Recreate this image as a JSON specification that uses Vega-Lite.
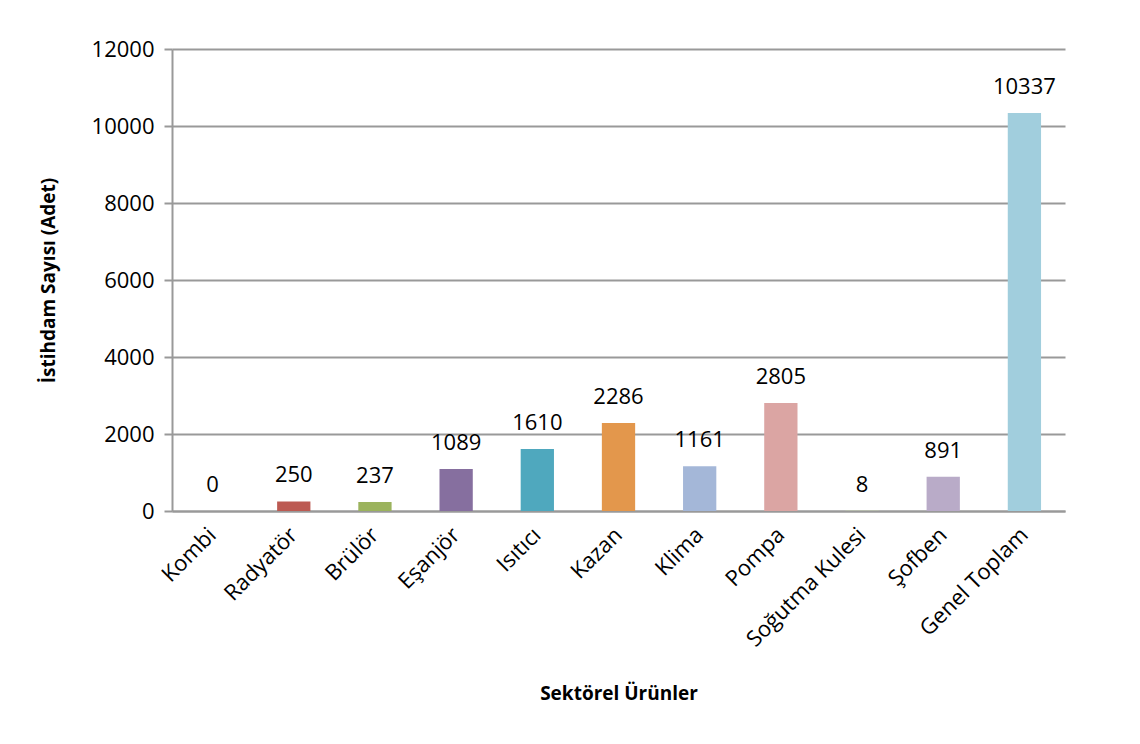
{
  "$schema": "https://vega.github.io/schema/vega-lite/v6.json",
  "width": 893,
  "height": 462,
  "padding": {"left": 39, "top": 38, "right": 75, "bottom": 5},
  "background": "white",
  "data": {
    "values": [
      {"urun": "Kombi", "adet": 0, "renk": "#4F81BD"},
      {"urun": "Radyatör", "adet": 250, "renk": "#BC5A52"},
      {"urun": "Brülör", "adet": 237, "renk": "#9BB35D"},
      {"urun": "Eşanjör", "adet": 1089, "renk": "#866F9F"},
      {"urun": "Isıtıcı", "adet": 1610, "renk": "#4FA8BE"},
      {"urun": "Kazan", "adet": 2286, "renk": "#E3974C"},
      {"urun": "Klima", "adet": 1161, "renk": "#A4B7D8"},
      {"urun": "Pompa", "adet": 2805, "renk": "#DBA5A3"},
      {"urun": "Soğutma Kulesi", "adet": 8, "renk": "#C4D79F"},
      {"urun": "Şofben", "adet": 891, "renk": "#B9ABC8"},
      {"urun": "Genel Toplam", "adet": 10337, "renk": "#A1CEDD"}
    ]
  },
  "encoding": {
    "x": {
      "field": "urun",
      "type": "nominal",
      "sort": null,
      "scale": {"paddingInner": 0.59, "paddingOuter": 0.295},
      "axis": {
        "title": "Sektörel Ürünler",
        "titleFont": "Open Sans",
        "titleFontSize": 19,
        "titleFontWeight": "bold",
        "titleColor": "black",
        "titlePadding": 34,
        "labelAngle": -45,
        "labelAlign": "right",
        "labelBaseline": "middle",
        "labelFont": "Open Sans",
        "labelFontSize": 22,
        "labelColor": "black",
        "labelPadding": 20,
        "ticks": false,
        "domainColor": "#999999",
        "domainWidth": 2,
        "grid": false
      }
    },
    "y": {
      "field": "adet",
      "type": "quantitative",
      "scale": {"domain": [0, 12000]},
      "axis": {
        "title": "İstihdam Sayısı (Adet)",
        "titleFont": "Open Sans",
        "titleFontSize": 19,
        "titleFontWeight": "bold",
        "titleColor": "black",
        "titlePadding": 33,
        "values": [0, 2000, 4000, 6000, 8000, 10000, 12000],
        "format": "d",
        "labelFont": "Open Sans",
        "labelFontSize": 22,
        "labelColor": "black",
        "labelPadding": 10,
        "tickSize": 8,
        "tickColor": "#999999",
        "tickWidth": 2,
        "domainColor": "#999999",
        "domainWidth": 2,
        "gridColor": "#999999",
        "gridWidth": 2
      }
    }
  },
  "layer": [
    {
      "mark": {"type": "bar"},
      "encoding": {
        "color": {"field": "renk", "type": "nominal", "scale": null}
      }
    },
    {
      "mark": {"type": "text", "baseline": "bottom", "dy": -14, "font": "Open Sans", "fontSize": 22, "color": "black"},
      "encoding": {
        "text": {"field": "adet", "type": "quantitative"}
      }
    }
  ],
  "config": {
    "view": {"stroke": null}
  }
}
